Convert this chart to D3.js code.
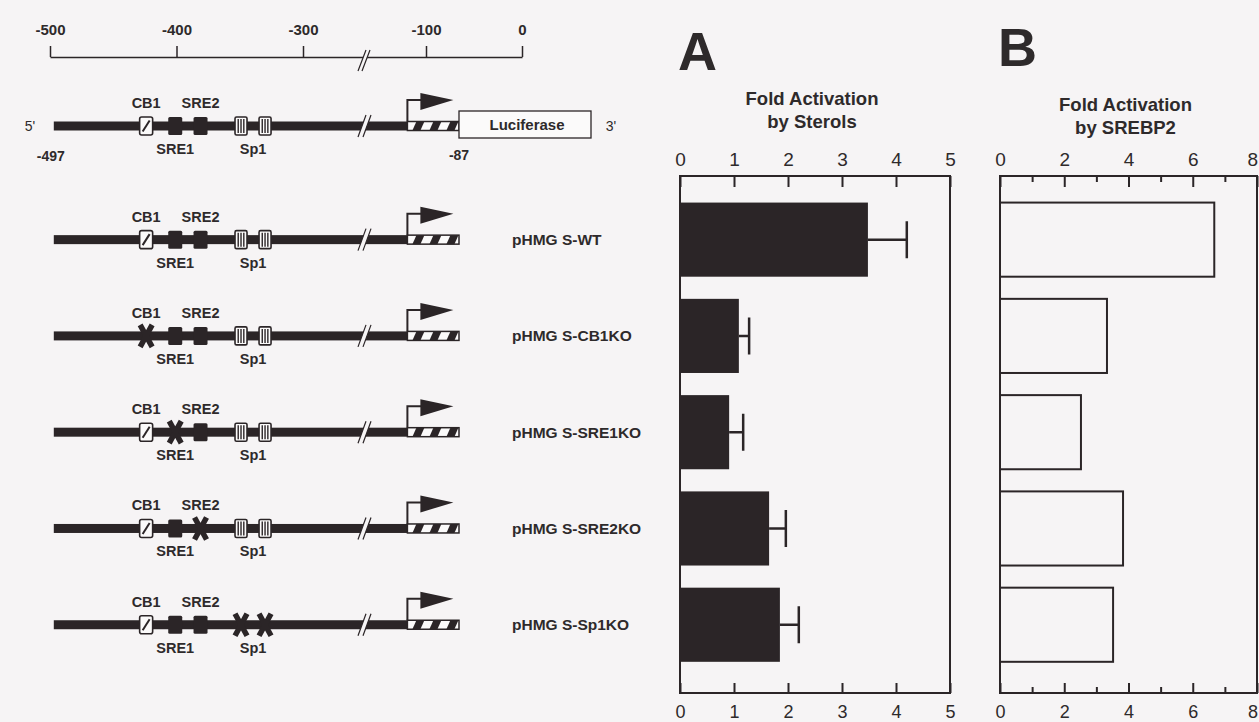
<!DOCTYPE html>
<html>
<head>
<meta charset="utf-8">
<script src="https://cdn.jsdelivr.net/npm/d3@7"></script>
<style>
  html, body { margin: 0; padding: 0; background: #f6f4f5; }
  svg { display: block; }
  text { font-family: "Liberation Sans", Arial, Helvetica, sans-serif; fill: #2e2a2b; }
</style>
</head>
<body>
<svg id="fig" width="1259" height="722"></svg>
<script>
// ---- promoter map (positions in bp relative to the start site) ----
const rulerTicks = [-500, -400, -300, -100, 0];
const rulerBreak = -200;
const fragStart = -497;
const fragEnd = -87;
const tss = -130;

// regulatory elements inside the promoter fragment
const elementIds = ["CB1", "SRE1", "SRE2", "Sp1a", "Sp1b"];
const elementPos = [-424, -401, -381, -349, -330];
const elementKind = ["cb1", "sre", "sre", "sp1", "sp1"];

// element names written on the map
const labelText = ["CB1", "SRE2", "SRE1", "Sp1"];
const labelPos = [-424, -381, -401, -339.5];
const labelAbove = [true, true, false, false];

// reporter constructs and the elements knocked out in each
const constructs = ["pHMG S-WT", "pHMG S-CB1KO", "pHMG S-SRE1KO", "pHMG S-SRE2KO", "pHMG S-Sp1KO"];
const knockedOut = [[], ["CB1"], ["SRE1"], ["SRE2"], ["Sp1a", "Sp1b"]];

// A: fold activation by sterols (mean and error)
const sterolFold = [3.48, 1.09, 0.91, 1.65, 1.85];
const sterolErr = [0.72, 0.19, 0.26, 0.31, 0.35];
const sterolTicks = [0, 1, 2, 3, 4, 5];

// B: fold activation by SREBP2
const srebpFold = [6.67, 3.33, 2.52, 3.83, 3.52];
const srebpTicks = [0, 2, 4, 6, 8];
const srebpMinorTicks = [1, 3, 5, 7];

// ---------------------------------------------------------------
const ink = "#2b2527";
const paper = "#f6f4f5";
const svg = d3.select("#fig");
const plain = d => String(d);
const W = +svg.attr("width");

// broken bp scale shared by ruler and construct maps
const bp = d3.scaleLinear()
  .domain([-500, -300, -200, -100, -87, 0])
  .range([50, 303, 364, 426, 459, 522]);

// construct rows share the vertical band scale with the bar panels
const y = d3.scaleBand()
  .domain(constructs)
  .range([176, 693])
  .paddingInner(0.23)
  .paddingOuter(0.3)
  .align(0.46);
const bw = y.bandwidth();
const rowY = c => y(c) + bw / 2;

function breakMark(g, x, cy, h) {
  g.append("path")
    .attr("d", `M${x - 6},${cy + h}L${x + 2},${cy - h}L${x + 7},${cy - h}L${x - 1},${cy + h}Z`)
    .attr("fill", paper);
  g.append("path")
    .attr("d", `M${x - 6},${cy + h}L${x + 2},${cy - h}M${x - 1},${cy + h}L${x + 7},${cy - h}`)
    .attr("stroke", ink).attr("stroke-width", 1.2).attr("fill", "none");
}

// ---- ruler ----
const ruler = svg.append("g").attr("transform", "translate(0,57)");
ruler.call(d3.axisTop(bp).tickValues(rulerTicks).tickSizeInner(11).tickSizeOuter(0).tickPadding(11).tickFormat(plain));
ruler.select(".domain").attr("stroke", ink).attr("stroke-width", 1.5);
ruler.selectAll(".tick line").attr("stroke", ink).attr("stroke-width", 1.5);
ruler.selectAll(".tick text")
  .style("font-family", "'Liberation Sans', Arial, sans-serif")
  .style("font-size", "15px").style("font-weight", "bold").attr("fill", "#2e2a2b");
(function () {
  const x = bp(rulerBreak);
  const g = ruler.append("g");
  g.append("path")
    .attr("d", `M${x - 6},14L${x + 2},-7L${x + 6},-7L${x - 2},14Z`).attr("fill", paper);
  g.append("path")
    .attr("d", `M${x - 6},14L${x + 2},-7M${x - 2},14L${x + 6},-7`)
    .attr("stroke", ink).attr("stroke-width", 1.2).attr("fill", "none");
})();

// ---- one promoter map ----
function drawElement(g, kind, ko, x, cy) {
  if (ko) {
    g.append("path")
      .attr("d", `M${x - 6},${cy - 11}L${x + 6},${cy + 11}M${x + 6},${cy - 11}L${x - 6},${cy + 11}`)
      .attr("stroke", ink).attr("stroke-width", 5.5).attr("fill", "none");
    return;
  }
  if (kind === "sre") {
    g.append("rect").attr("x", x - 7).attr("y", cy - 9).attr("width", 14).attr("height", 18)
      .attr("rx", 1.5).attr("fill", ink);
  } else if (kind === "cb1") {
    g.append("rect").attr("x", x - 6.5).attr("y", cy - 9).attr("width", 13).attr("height", 18)
      .attr("rx", 2).attr("fill", "#fbfafa").attr("stroke", ink).attr("stroke-width", 1.6);
    g.append("line").attr("x1", x - 3.5).attr("y1", cy + 5.5).attr("x2", x + 3.5).attr("y2", cy - 5.5)
      .attr("stroke", ink).attr("stroke-width", 2);
  } else {
    g.append("rect").attr("x", x - 6).attr("y", cy - 9).attr("width", 12).attr("height", 18)
      .attr("rx", 1.5).attr("fill", "#fbfafa").attr("stroke", ink).attr("stroke-width", 1.6);
    [-2.8, 0, 2.8].forEach(d => g.append("line")
      .attr("x1", x + d).attr("x2", x + d).attr("y1", cy - 7).attr("y2", cy + 7)
      .attr("stroke", ink).attr("stroke-width", 1.4));
  }
}

function drawMap(cy, ko) {
  const g = svg.append("g");
  const x0 = bp(fragStart), xt = bp(tss), x1 = bp(fragEnd);
  // promoter body
  g.append("rect").attr("x", x0).attr("y", cy - 4.5).attr("width", xt - x0).attr("height", 9).attr("fill", ink);
  breakMark(g, bp(rulerBreak), cy, 11);
  // transcribed leader (hatched)
  g.append("rect").attr("x", xt).attr("y", cy - 4.5).attr("width", x1 - xt).attr("height", 9)
    .attr("fill", "#fbfafa").attr("stroke", ink).attr("stroke-width", 1.5);
  [0, 1, 2].forEach(i => {
    const s = xt + 5 + i * 17;
    g.append("path")
      .attr("d", `M${s + 4},${cy - 4.5}L${s + 12},${cy - 4.5}L${s + 8},${cy + 4.5}L${s},${cy + 4.5}Z`)
      .attr("fill", ink);
  });
  // start-site arrow
  g.append("path").attr("d", `M${xt},${cy - 4.5}V${cy - 26}H${xt + 15}`)
    .attr("stroke", ink).attr("stroke-width", 2).attr("fill", "none");
  g.append("path").attr("d", `M${xt + 13},${cy - 33}L${xt + 46},${cy - 26}L${xt + 13},${cy - 16}Z`)
    .attr("fill", ink);
  // elements
  elementIds.forEach((id, i) => drawElement(g, elementKind[i], ko.includes(id), bp(elementPos[i]), cy));
  // element names
  labelText.forEach((t, i) => {
    g.append("text").attr("x", bp(labelPos[i])).attr("y", labelAbove[i] ? cy - 18 : cy + 28)
      .attr("text-anchor", "middle").style("font-size", "14.5px").style("font-weight", "bold").text(t);
  });
  return g;
}

// reference map with the luciferase reporter
const headY = 126;
const head = drawMap(headY, []);
head.append("rect").attr("x", bp(fragEnd)).attr("y", headY - 15).attr("width", 132).attr("height", 27)
  .attr("fill", "#fbfafa").attr("stroke", ink).attr("stroke-width", 1.3);
head.append("text").attr("x", bp(fragEnd) + 68).attr("y", headY + 3.5).attr("text-anchor", "middle")
  .style("font-size", "15px").style("font-weight", "bold").text("Luciferase");
head.append("text").attr("x", 30).attr("y", headY + 5).attr("text-anchor", "middle")
  .style("font-size", "14px").text("5'");
head.append("text").attr("x", 611).attr("y", headY + 5).attr("text-anchor", "middle")
  .style("font-size", "14px").text("3'");
head.append("text").attr("x", bp(fragStart) - 3).attr("y", headY + 35).attr("text-anchor", "middle")
  .style("font-size", "14px").style("font-weight", "bold").text(String(fragStart));
head.append("text").attr("x", bp(fragEnd)).attr("y", headY + 34).attr("text-anchor", "middle")
  .style("font-size", "14px").style("font-weight", "bold").text(String(fragEnd));

// construct maps and names
constructs.forEach((c, i) => {
  const g = drawMap(rowY(c), knockedOut[i]);
  g.append("text").attr("x", 512).attr("y", rowY(c) + 5.5)
    .style("font-size", "15.5px").style("font-weight", "bold").text(c);
});

// ---- bar panels ----
function styleAxis(g, size) {
  g.select(".domain").remove();
  g.selectAll(".tick line").attr("stroke", ink).attr("stroke-width", 2);
  g.selectAll(".tick text")
    .style("font-family", "'Liberation Sans', Arial, sans-serif")
    .style("font-size", size + "px").attr("fill", "#333");
  // keep a label that would run past the page edge inside it
  g.selectAll(".tick").each(function () {
    const t = d3.select(this);
    const m = /translate\(([-\d.]+)/.exec(t.attr("transform"));
    if (m && +m[1] > W - 6) t.select("text").attr("text-anchor", "end").attr("x", W - 1 - +m[1]);
  });
}

function panel(x, ticks, minor, letter, letterBase, title, titleBase) {
  const g = svg.append("g");
  const [top, bottom] = y.range();
  const [left, right] = x.range();
  g.append("text").attr("x", left - 2).attr("y", letterBase)
    .style("font-size", "54px").style("font-weight", "bold").text(letter);
  title.forEach((t, i) => g.append("text")
    .attr("x", (left + right) / 2 - 3).attr("y", titleBase + i * 22.5).attr("text-anchor", "middle")
    .style("font-size", "18.5px").style("font-weight", "bold").text(t));
  const topAx = g.append("g").attr("transform", `translate(0,${top})`)
    .call(d3.axisTop(x).tickValues(ticks).tickSizeInner(-11).tickSizeOuter(0).tickPadding(10).tickFormat(plain));
  const botAx = g.append("g").attr("transform", `translate(0,${bottom})`)
    .call(d3.axisBottom(x).tickValues(ticks).tickSizeInner(-10).tickSizeOuter(0).tickPadding(12).tickFormat(plain));
  styleAxis(topAx, 19); styleAxis(botAx, 18);
  if (minor.length) {
    const mt = g.append("g").attr("transform", `translate(0,${top})`)
      .call(d3.axisTop(x).tickValues(minor).tickSizeInner(-6).tickSizeOuter(0).tickFormat(""));
    const mb = g.append("g").attr("transform", `translate(0,${bottom})`)
      .call(d3.axisBottom(x).tickValues(minor).tickSizeInner(-6).tickSizeOuter(0).tickFormat(""));
    styleAxis(mt, 18); styleAxis(mb, 18);
  }
  g.append("rect").attr("x", left).attr("y", top).attr("width", right - left).attr("height", bottom - top)
    .attr("fill", "none").attr("stroke", ink).attr("stroke-width", 2);
  return g;
}

// A
const xA = d3.scaleLinear().domain([0, 5]).range([680, 950]);
const gA = panel(xA, sterolTicks, [], "A", 70, ["Fold Activation", "by Sterols"], 105);
gA.selectAll("rect.bar").data(constructs).join("rect").attr("class", "bar")
  .attr("x", xA(0)).attr("y", c => y(c))
  .attr("width", (c, i) => xA(sterolFold[i]) - xA(0)).attr("height", bw)
  .attr("fill", ink);
gA.selectAll("path.err").data(constructs).join("path").attr("class", "err")
  .attr("d", (c, i) => {
    const xm = xA(sterolFold[i]), xe = xA(sterolFold[i] + sterolErr[i]), cy = rowY(c);
    return `M${xm},${cy}H${xe}M${xe},${cy - 18.5}V${cy + 18.5}`;
  })
  .attr("stroke", ink).attr("stroke-width", 2.5).attr("fill", "none");

// B
const xB = d3.scaleLinear().domain([0, 8]).range([1000, 1257]);
const gB = panel(xB, srebpTicks, srebpMinorTicks, "B", 66, ["Fold Activation", "by SREBP2"], 111);
gB.selectAll("rect.bar").data(constructs).join("rect").attr("class", "bar")
  .attr("x", xB(0)).attr("y", c => y(c))
  .attr("width", (c, i) => xB(srebpFold[i]) - xB(0)).attr("height", bw)
  .attr("fill", "none").attr("stroke", ink).attr("stroke-width", 2);
</script>
</body>
</html>
